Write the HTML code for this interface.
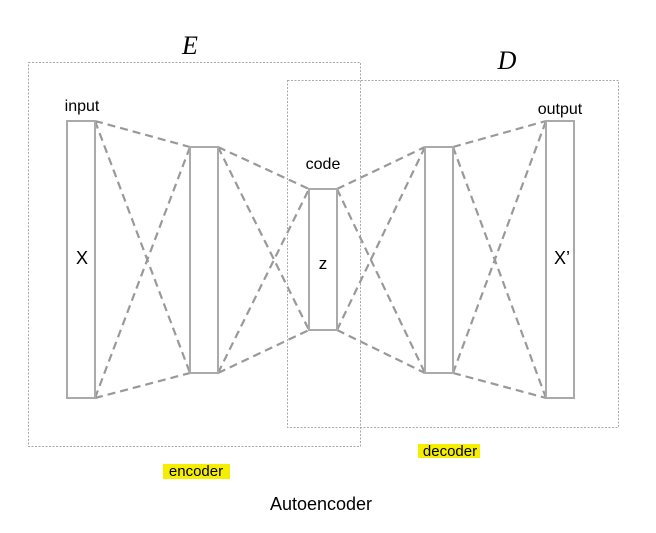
<!DOCTYPE html>
<html><head><style>
html,body{margin:0;padding:0;background:#fff;}
</style></head><body>
<svg width="656" height="533" xmlns="http://www.w3.org/2000/svg" style="display:block">
<g fill="none" stroke="#aaa" stroke-width="1" stroke-dasharray="2,1.5">
<rect x="28.5" y="62.5" width="332" height="384"/>
<rect x="287.5" y="80.5" width="331" height="347"/>
</g>
<g fill="none" stroke="#999" stroke-width="2.2" stroke-dasharray="8,5">
<path d="M95,121L190,147M95,121L190,373M95,398L190,147M95,398L190,373"/>
<path d="M218,147L309,189M218,147L309,330M218,373L309,189M218,373L309,330"/>
<path d="M337,189L425,147M337,189L425,373M337,330L425,147M337,330L425,373"/>
<path d="M453,147L546,121M453,147L546,398M453,373L546,121M453,373L546,398"/>
</g>
<g fill="#fff" stroke="#aaa" stroke-width="2">
<rect x="67" y="121" width="28" height="277"/>
<rect x="190" y="147" width="28" height="226"/>
<rect x="309" y="189" width="28" height="141"/>
<rect x="425" y="147" width="28" height="226"/>
<rect x="546" y="121" width="28" height="277"/>
</g>
<rect x="163" y="464" width="67" height="15" fill="#f5ee00"/>
<rect x="418" y="444" width="62" height="14" fill="#f5ee00"/>
<g font-family="Liberation Sans, sans-serif" fill="#000" text-anchor="middle">
<text x="82" y="111" font-size="16">input</text>
<text x="323" y="169" font-size="16">code</text>
<text x="560" y="114" font-size="16">output</text>
<text x="82" y="264" font-size="18">X</text>
<text x="323" y="269" font-size="17">z</text>
<text x="562" y="264" font-size="18">X’</text>
<text x="196" y="476" font-size="15">encoder</text>
<text x="450" y="456" font-size="15">decoder</text>
<text x="321" y="510" font-size="18">Autoencoder</text>
</g>
<g font-family="Liberation Serif, serif" font-style="italic" font-size="26" text-anchor="middle">
<text x="190" y="54">E</text>
<text x="507" y="69">D</text>
</g>
</svg>
</body></html>
